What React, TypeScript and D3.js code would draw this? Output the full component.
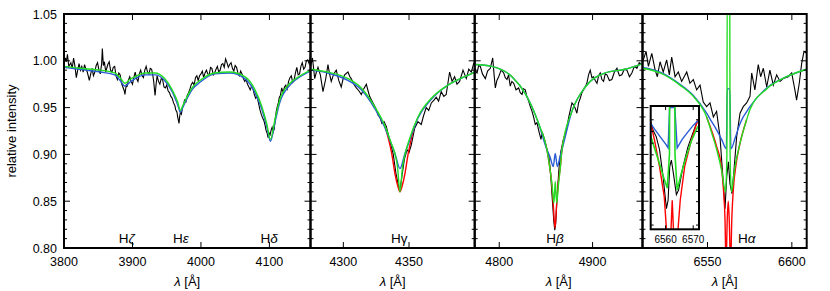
import React from 'react';
import * as d3 from 'd3';

type Pt = [number, number];

const obsDelta: Pt[] = [
  [3800, 0.996], [3802, 1.003], [3803.5, 0.999], [3805, 1.007], [3807, 0.994], [3810, 0.998], [3812, 0.992],
  [3814, 1.003], [3816, 0.994], [3818, 0.982], [3820, 0.990], [3822, 0.997], [3824, 0.990], [3826, 0.994],
  [3828, 0.988], [3830, 0.996], [3832, 0.991], [3834, 0.988], [3837, 0.979], [3839, 0.986], [3841, 0.992],
  [3843, 0.984], [3845, 0.988], [3847, 0.995], [3849, 0.998], [3851, 0.990], [3853, 0.986], [3855, 0.997],
  [3856, 1.013], [3857.5, 0.995], [3859, 0.999], [3861, 0.988], [3862, 0.991], [3864, 0.996], [3866, 0.999],
  [3868, 0.990], [3870, 0.988], [3872, 0.993], [3874, 0.994], [3876, 0.984], [3878, 0.980], [3880, 0.987],
  [3882, 0.985], [3884, 0.976], [3886, 0.972], [3888, 0.968], [3889, 0.964], [3891, 0.975], [3892, 0.972],
  [3894, 0.979], [3896, 0.983], [3898, 0.978], [3900, 0.975], [3902, 0.982], [3904, 0.988], [3906, 0.981],
  [3908, 0.978], [3910, 0.986], [3912, 0.990], [3914, 0.984], [3916, 0.982], [3918, 0.990], [3920, 0.994],
  [3922, 0.988], [3924, 0.986], [3926, 0.992], [3928, 0.991], [3930, 0.983], [3931, 0.978], [3933, 0.963],
  [3934.5, 0.975], [3936, 0.984], [3938, 0.978], [3940, 0.975], [3942, 0.981], [3944, 0.980], [3946, 0.972],
  [3948, 0.971], [3950, 0.974], [3952, 0.968], [3954, 0.966], [3956, 0.962], [3958, 0.960], [3960, 0.955],
  [3962, 0.952], [3963, 0.948], [3965, 0.945], [3966, 0.940], [3968, 0.933], [3969, 0.941], [3970, 0.945],
  [3971.5, 0.943], [3973, 0.950], [3975, 0.954], [3976, 0.958], [3978, 0.956], [3980, 0.963], [3982, 0.966],
  [3984, 0.970], [3986, 0.975], [3988, 0.977], [3990, 0.974], [3992, 0.982], [3994, 0.984], [3996, 0.979],
  [3998, 0.984], [4000, 0.986], [4002, 0.989], [4004, 0.982], [4006, 0.987], [4008, 0.990], [4010, 0.986],
  [4012, 0.985], [4014, 0.993], [4016, 0.992], [4018, 0.985], [4020, 0.987], [4022, 0.991], [4024, 0.994],
  [4026, 0.988], [4028, 0.990], [4030, 0.996], [4032, 0.997], [4034, 0.993], [4036, 1.002], [4038, 0.998],
  [4040, 0.993], [4042, 0.996], [4044, 0.998], [4046, 0.992], [4048, 0.989], [4050, 0.995], [4052, 0.993],
  [4054, 0.987], [4056, 0.984], [4058, 0.989], [4060, 0.986], [4062, 0.981], [4064, 0.978], [4066, 0.980],
  [4068, 0.975], [4070, 0.972], [4072, 0.969], [4074, 0.973], [4076, 0.970], [4078, 0.964], [4080, 0.960],
  [4082, 0.962], [4084, 0.955], [4086, 0.948], [4088, 0.943], [4090, 0.939], [4092, 0.936], [4094, 0.930],
  [4095, 0.926], [4097, 0.922], [4098, 0.918], [4099.5, 0.923], [4101, 0.921], [4102.5, 0.926], [4104, 0.929],
  [4105.5, 0.924], [4107, 0.927], [4108.5, 0.938], [4110, 0.946], [4111.5, 0.951], [4113, 0.955], [4114.5, 0.961],
  [4116, 0.963], [4118, 0.971], [4120, 0.966], [4122, 0.972], [4124, 0.974], [4126, 0.970], [4128, 0.978],
  [4130, 0.982], [4132, 0.984], [4134, 0.977], [4136, 0.979], [4138, 0.987], [4140, 0.993], [4142, 0.985],
  [4144, 0.986], [4146, 0.994], [4148, 0.998], [4150, 0.991], [4152, 0.993], [4154, 1.000], [4156, 1.001],
  [4158, 0.997], [4160, 1.005],
];

const obsGamma: Pt[] = [
  [4275, 0.994], [4276.5, 1.003], [4278.2, 0.981], [4279.5, 0.988], [4280.7, 0.993], [4282.5, 0.985],
  [4284.5, 0.967], [4286.5, 0.980], [4288.3, 0.996], [4289.5, 0.986], [4290.8, 0.978], [4292.7, 0.986],
  [4294.6, 0.990], [4296.5, 0.979], [4298.4, 0.972], [4299.7, 0.980], [4301, 0.985], [4303.5, 0.988],
  [4305, 0.983], [4306, 0.981], [4308, 0.975], [4309.9, 0.971], [4311.8, 0.968], [4313.7, 0.964],
  [4315.5, 0.970], [4317.5, 0.975], [4318.8, 0.968], [4320, 0.962], [4322.6, 0.955], [4324.5, 0.950],
  [4326.4, 0.942], [4328, 0.939], [4329.4, 0.933], [4331, 0.935], [4332.7, 0.930], [4335.3, 0.915],
  [4338, 0.900], [4340, 0.880], [4342, 0.866], [4343.1, 0.861], [4344.5, 0.876], [4346.5, 0.895],
  [4348.5, 0.905], [4350, 0.902], [4351.7, 0.910], [4354.3, 0.928], [4356.8, 0.935], [4359.3, 0.932],
  [4361, 0.941], [4363.1, 0.950], [4365, 0.947], [4367, 0.955], [4369, 0.958], [4370.7, 0.961],
  [4372.5, 0.957], [4374.5, 0.967], [4376.5, 0.962], [4378.3, 0.964], [4380.9, 0.988], [4382.8, 0.978],
  [4384.7, 0.983], [4386.5, 0.975], [4388.5, 0.978], [4391.1, 0.990], [4393.6, 0.981], [4395.5, 0.991],
  [4397.4, 0.988], [4399.2, 0.997], [4400, 0.995],
];

const obsBeta: Pt[] = [
  [4773.7, 0.990], [4776.2, 0.987], [4778, 0.995], [4779.7, 0.994], [4782, 0.986], [4785.1, 0.981],
  [4787.5, 0.989], [4790.4, 0.992], [4793, 1.003], [4794.5, 0.985], [4795.8, 0.971], [4797.5, 0.979],
  [4799.4, 0.983], [4802, 0.990], [4804.8, 0.987], [4806.5, 0.982], [4808.3, 0.980], [4810, 0.985],
  [4811.8, 0.973], [4813.5, 0.978], [4815.5, 0.976], [4818, 0.969], [4820.8, 0.971], [4822.5, 0.966],
  [4824.4, 0.964], [4826, 0.970], [4827.9, 0.969], [4829.5, 0.962], [4831.5, 0.957], [4833.3, 0.951],
  [4835.1, 0.946], [4836.8, 0.940], [4838.6, 0.932], [4840.4, 0.934], [4842.2, 0.926], [4844.7, 0.916],
  [4846, 0.924], [4847.6, 0.919], [4849.5, 0.912], [4851.1, 0.905], [4853, 0.900], [4855, 0.880],
  [4857, 0.850], [4858.5, 0.828], [4859.5, 0.819], [4860.5, 0.826], [4862, 0.855], [4864, 0.885],
  [4866, 0.903], [4869, 0.917], [4870.8, 0.922], [4872.5, 0.928], [4874.3, 0.939], [4876.1, 0.947],
  [4877.9, 0.955], [4879.7, 0.953], [4881.5, 0.949], [4883.2, 0.944], [4885, 0.955], [4886.8, 0.960],
  [4888.6, 0.966], [4890.4, 0.969], [4892.1, 0.972], [4893.9, 0.976], [4895.7, 0.985], [4897.5, 0.990],
  [4899.3, 0.982], [4901.1, 0.983], [4902.9, 0.979], [4904.7, 0.976], [4906.5, 0.984], [4908.2, 0.987],
  [4910, 0.980], [4911.8, 0.978], [4913.6, 0.986], [4915.4, 0.985], [4918, 0.979], [4920.7, 0.980],
  [4923.4, 0.988], [4926.1, 0.992], [4928.8, 0.984], [4931.4, 0.985], [4934, 0.991], [4936.8, 0.990],
  [4939.5, 0.983], [4942.1, 0.987], [4944.8, 0.994], [4947.5, 0.992], [4950, 0.998], [4953.5, 0.996],
];

const obsAlpha: Pt[] = [
  [6511.5, 0.999], [6512, 1.001], [6513.6, 1.010], [6515, 0.994], [6517, 1.008], [6519, 0.990],
  [6520.3, 0.983], [6521.9, 0.999], [6523.8, 0.988], [6525.8, 1.001], [6527.4, 0.985], [6528.8, 1.004],
  [6530.8, 0.983], [6532.7, 0.988], [6534.7, 0.978], [6537.7, 0.988], [6539.6, 0.976], [6541.6, 0.980],
  [6543.6, 0.969], [6545.6, 0.974], [6547.5, 0.956], [6549.5, 0.951], [6551.5, 0.955], [6553.5, 0.940],
  [6555.4, 0.946], [6557.4, 0.919], [6559.4, 0.869], [6560.4, 0.842], [6561.4, 0.876], [6562.4, 0.892],
  [6563.3, 0.869], [6564.5, 0.858], [6565.7, 0.883], [6567.3, 0.919], [6569.3, 0.944], [6571.2, 0.951],
  [6573.2, 0.955], [6575.2, 0.962], [6576.2, 0.987], [6578.1, 0.969], [6580.1, 0.996], [6581.5, 0.983],
  [6583.1, 0.992], [6585.1, 0.972], [6587, 0.990], [6589, 0.974], [6591, 0.985], [6593, 0.978],
  [6594.9, 0.981], [6597.9, 0.983], [6599.9, 0.987], [6601.8, 0.969], [6602.8, 0.958], [6604.4, 0.976],
  [6605.8, 0.997], [6607.2, 1.010], [6608.8, 1.008],
];

// model spectra
const greenDelta: Pt[] = [
  [3800, 0.994], [3823, 0.992], [3853, 0.990], [3874, 0.987], [3882, 0.982], [3889, 0.976], [3896, 0.980],
  [3904, 0.983], [3918, 0.987], [3933, 0.987], [3947, 0.981], [3958, 0.969], [3966, 0.956], [3970, 0.947],
  [3974, 0.953], [3980, 0.962], [3988, 0.972], [3998.5, 0.979], [4020, 0.987], [4042, 0.988], [4064, 0.983],
  [4079, 0.969], [4089, 0.951], [4096, 0.933], [4101.5, 0.916], [4108, 0.937], [4115, 0.958], [4130, 0.976],
  [4145, 0.984], [4160, 0.990],
];
const blueDelta: Pt[] = [
  [3800, 0.993], [3823, 0.991], [3853, 0.988], [3874, 0.985], [3882, 0.979], [3889, 0.973], [3896, 0.977],
  [3904, 0.981], [3918, 0.985], [3933, 0.985], [3947, 0.979], [3958, 0.967], [3966, 0.953], [3970, 0.945],
  [3974, 0.951], [3980, 0.960], [3988, 0.970], [3998.5, 0.977], [4020, 0.986], [4042, 0.987], [4064, 0.981],
  [4079, 0.966], [4089, 0.948], [4096, 0.930], [4101.5, 0.914], [4108, 0.934], [4115, 0.955], [4130, 0.974],
  [4145, 0.983], [4160, 0.989],
];

const greenGamma: Pt[] = [
  [4275, 0.991], [4288, 0.988], [4303.5, 0.981], [4313.7, 0.971], [4323.9, 0.951], [4331.5, 0.931],
  [4336.5, 0.912], [4339, 0.902], [4341.2, 0.887], [4343.1, 0.860], [4345.1, 0.887], [4347.3, 0.902],
  [4350, 0.915], [4356.8, 0.940], [4367, 0.960], [4379.6, 0.974], [4392.3, 0.983], [4400, 0.988],
];
const blueGamma: Pt[] = [
  [4275, 0.990], [4288, 0.987], [4303.5, 0.979], [4313.7, 0.969], [4323.9, 0.949], [4331.5, 0.929],
  [4336.5, 0.911], [4339.3, 0.901], [4343.1, 0.885], [4346.9, 0.901], [4350, 0.913], [4356.8, 0.939],
  [4367, 0.959], [4379.6, 0.974], [4392.3, 0.983], [4400, 0.988],
];
const redGamma: Pt[] = [
  [4331.5, 0.931], [4336.8, 0.901], [4339.5, 0.878], [4341.5, 0.866], [4343.1, 0.860], [4344.7, 0.866],
  [4346.7, 0.878], [4349.4, 0.901], [4354, 0.930],
];

const greenBeta: Pt[] = [
  [4773.7, 0.996], [4792, 0.994], [4813.6, 0.983], [4827.9, 0.965], [4842.2, 0.933], [4851.1, 0.905],
  [4854, 0.887], [4856.5, 0.868], [4858.6, 0.848], [4860, 0.871], [4861.5, 0.848], [4863.5, 0.868],
  [4865.5, 0.887], [4867.2, 0.905], [4877.9, 0.946], [4892.1, 0.972], [4913.5, 0.987], [4935, 0.991],
  [4953.5, 0.997],
];
const blueBeta: Pt[] = [
  [4773.7, 0.996], [4792, 0.994], [4813.6, 0.983], [4827.9, 0.965], [4842.2, 0.933], [4851.1, 0.905],
  [4854.5, 0.897], [4857.9, 0.887], [4860, 0.901], [4862.2, 0.887], [4865, 0.897], [4867.2, 0.905],
  [4877.9, 0.946], [4892.1, 0.972], [4913.5, 0.987], [4935, 0.991], [4953.5, 0.997],
];
const redBeta: Pt[] = [
  [4846, 0.922], [4851.1, 0.905], [4854, 0.887], [4856.5, 0.866], [4858, 0.845], [4859.7, 0.821],
  [4861.4, 0.845], [4862.9, 0.866], [4865.5, 0.887], [4867.2, 0.905], [4872, 0.925],
];

const greenAlpha: Pt[] = [
  [6511.5, 0.992], [6521.9, 0.987], [6533.7, 0.974], [6541.6, 0.962], [6549.5, 0.940], [6552.5, 0.923],
  [6555.5, 0.905], [6558.4, 0.883], [6560.7, 0.860], [6561.5, 0.9], [6561.7, 1.07], [6563.2, 1.07],
  [6563.4, 0.9], [6564.2, 0.860], [6566, 0.884], [6569.3, 0.912], [6573.2, 0.937], [6575.2, 0.948],
  [6585.1, 0.970], [6596.9, 0.983], [6608.8, 0.991],
];
const blueAlpha: Pt[] = [
  [6511.5, 0.993], [6521.9, 0.988], [6533.7, 0.975], [6541.6, 0.963], [6549.5, 0.944], [6552.5, 0.935],
  [6555.5, 0.926], [6558.4, 0.916], [6561.2, 0.906], [6561.7, 0.97], [6563.2, 0.97], [6563.9, 0.906],
  [6566.5, 0.918], [6569.3, 0.933], [6575.2, 0.951], [6585.1, 0.971], [6596.9, 0.983], [6608.8, 0.991],
];
const redAlpha: Pt[] = [
  [6549.5, 0.940], [6555.5, 0.908], [6558, 0.890], [6559.5, 0.862], [6560.4, 0.83], [6561, 0.78],
  [6561.7, 0.83], [6562.3, 0.850], [6562.9, 0.83], [6563.7, 0.78], [6564.4, 0.83], [6565.3, 0.862],
  [6567, 0.890], [6569.3, 0.912], [6573.2, 0.937],
];

// inset around the H-alpha core
const insetObs: Pt[] = [
  [6554.2, 0.939], [6555.4, 0.926], [6556.6, 0.919], [6557.8, 0.905], [6559.1, 0.876], [6560.3, 0.842],
  [6560.9, 0.851], [6561.5, 0.887], [6562.1, 0.894], [6563, 0.876], [6563.9, 0.857], [6564.7, 0.862],
  [6566.3, 0.887], [6568.1, 0.908], [6569.9, 0.923], [6571.7, 0.937],
];
const insetRed: Pt[] = [
  [6554.2, 0.939], [6556, 0.915], [6557.8, 0.887], [6559.5, 0.855], [6560.4, 0.816], [6561.2, 0.78],
  [6561.9, 0.816], [6562.4, 0.851], [6562.9, 0.816], [6563.6, 0.78], [6564.4, 0.816], [6565.3, 0.851],
  [6566.9, 0.887], [6569.3, 0.915], [6571.7, 0.937],
];
const insetGreen: Pt[] = [
  [6554.2, 0.924], [6555.4, 0.912], [6556.6, 0.901], [6557.8, 0.890], [6559.1, 0.877], [6560.6, 0.864],
  [6561.4, 0.9], [6561.5, 1.0], [6563.3, 1.0], [6563.4, 0.9], [6564.2, 0.862], [6565.7, 0.880],
  [6567.5, 0.898], [6569.3, 0.914], [6571.7, 0.930],
];
const insetBlue: Pt[] = [
  [6554.2, 0.935], [6556, 0.927], [6558, 0.919], [6560.3, 0.910], [6560.9, 0.907], [6561.45, 0.95],
  [6563.35, 0.95], [6564.2, 0.907], [6566, 0.916], [6568.1, 0.924], [6570, 0.931], [6571.7, 0.936],
];

const yTicks = [0.80, 0.85, 0.90, 0.95, 1.00, 1.05];
const insetTicksX = [6560, 6570];
const insetTicksY = [0.8245, 0.837, 0.8495, 0.862, 0.8745, 0.887, 0.8995, 0.912, 0.9245, 0.937];

const lineLabels = [
  { panel: 0, wl: 3891.5, greek: 'ζ', italic: true },
  { panel: 0, wl: 3970.8, greek: 'ε', italic: true },
  { panel: 0, wl: 4099.7, greek: 'δ', italic: true },
  { panel: 1, wl: 4342.6, greek: 'γ', italic: false },
  { panel: 2, wl: 4859.6, greek: 'β', italic: true },
  { panel: 3, wl: 6573.2, greek: 'α', italic: true },
];

const panels = [
  { domain: [3800, 4160], range: [64, 310.5], ticks: [3800, 3900, 4000, 4100], obs: obsDelta, red: [] as Pt[], blue: blueDelta, green: greenDelta },
  { domain: [4275, 4400], range: [310.5, 474.7], ticks: [4300, 4350], obs: obsGamma, red: redGamma, blue: blueGamma, green: greenGamma },
  { domain: [4773.7, 4953.5], range: [474.7, 642.5], ticks: [4800, 4900], obs: obsBeta, red: redBeta, blue: blueBeta, green: greenBeta },
  { domain: [6511.5, 6608.8], range: [642.5, 806.7], ticks: [6550, 6600], obs: obsAlpha, red: redAlpha, blue: blueAlpha, green: greenAlpha },
];

const FONT = 'Liberation Sans, Arial, Helvetica, sans-serif';
const BLACK = '#000';
const RED = '#ff0000';
const GREEN = '#22dd22';
const BLUE = '#2a5cd6';

const TOP = 14;
const BOTTOM = 248;

export default function App() {
  const y = d3.scaleLinear().domain([0.8, 1.05]).range([BOTTOM, TOP]);
  const minorY = d3.range(0, 26).map(i => 0.8 + i * 0.01);

  const mkLine = (x: d3.ScaleLinear<number, number>, curve: d3.CurveFactory) =>
    d3.line<Pt>().x(d => x(d[0])).y(d => y(d[1])).curve(curve);

  const inX = d3.scaleLinear().domain([6554.6, 6572.1]).range([650.7, 699]);
  const inTop = 106;
  const inBottom = 229.3;
  const inLine = mkLine(inX, d3.curveLinear);

  return (
    <svg width={830} height={291} style={{ position: 'absolute', left: 0, top: 0, background: '#fff' }}
      fontFamily={FONT}>
      <defs>
        {panels.map((p, i) => (
          <clipPath id={`clip${i}`} key={i}>
            <rect x={p.range[0]} y={TOP} width={p.range[1] - p.range[0]} height={BOTTOM - TOP} />
          </clipPath>
        ))}
        <clipPath id="clipInset">
          <rect x={650.7} y={inTop} width={699 - 650.7} height={inBottom - inTop} />
        </clipPath>
      </defs>

      {panels.map((p, i) => {
        const x = d3.scaleLinear().domain(p.domain).range(p.range);
        const lin = mkLine(x, d3.curveLinear);
        const smooth = mkLine(x, d3.curveMonotoneX);
        const [x0, x1] = p.range;
        return (
          <g key={i}>
            <g clipPath={`url(#clip${i})`}>
              <path d={lin(p.obs) || ''} fill="none" stroke={BLACK} strokeWidth={1.1} />
              {p.red.length > 0 && <path d={smooth(p.red) || ''} fill="none" stroke={RED} strokeWidth={1.4} />}
              <path d={smooth(p.blue) || ''} fill="none" stroke={BLUE} strokeWidth={1.4} />
              <path d={smooth(p.green) || ''} fill="none" stroke={GREEN} strokeWidth={1.4} />
            </g>
            {minorY.map((v, j) => {
              const major = j % 5 === 0;
              const len = major ? 6 : 3;
              return (
                <g key={j} stroke={BLACK} strokeWidth={1}>
                  <line x1={x0} x2={x0 + len} y1={y(v)} y2={y(v)} />
                  <line x1={x1} x2={x1 - len} y1={y(v)} y2={y(v)} />
                </g>
              );
            })}
            {p.ticks.map(t => (
              <g key={t}>
                <line x1={x(t)} x2={x(t)} y1={BOTTOM} y2={BOTTOM - 6} stroke={BLACK} />
                <line x1={x(t)} x2={x(t)} y1={TOP} y2={TOP + 6} stroke={BLACK} />
                <text x={x(t)} y={266} textAnchor="middle" fontSize={12.5}>{t}</text>
              </g>
            ))}
            <rect x={x0} y={TOP} width={x1 - x0} height={BOTTOM - TOP} fill="none" stroke={BLACK} strokeWidth={2} />
            <text x={(x0 + x1) / 2} y={286} textAnchor="middle" fontSize={13}>
              <tspan fontStyle="italic">λ</tspan> [Å]
            </text>
          </g>
        );
      })}

      {yTicks.map(t => (
        <text key={t} x={57} y={y(t)} dy="0.36em" textAnchor="end" fontSize={12.5}>{t.toFixed(2)}</text>
      ))}
      <text transform={`translate(15.5, ${(TOP + BOTTOM) / 2}) rotate(-90)`} textAnchor="middle" fontSize={13}>
        relative intensity
      </text>

      {lineLabels.map((l, i) => {
        const p = panels[l.panel];
        const x = d3.scaleLinear().domain(p.domain).range(p.range);
        return (
          <text key={i} x={x(l.wl)} y={242.5} textAnchor="middle" fontSize={13.5}>
            H<tspan fontStyle={l.italic ? 'italic' : 'normal'}>{l.greek}</tspan>
          </text>
        );
      })}

      {/* inset */}
      <g>
        <rect x={650.7} y={inTop} width={699 - 650.7} height={inBottom - inTop} fill="#fff" />
        <g clipPath="url(#clipInset)">
          <path d={inLine(insetObs) || ''} fill="none" stroke={BLACK} strokeWidth={1.1} />
          <path d={inLine(insetRed) || ''} fill="none" stroke={RED} strokeWidth={1.4} />
          <path d={inLine(insetBlue) || ''} fill="none" stroke={BLUE} strokeWidth={1.4} />
          <path d={inLine(insetGreen) || ''} fill="none" stroke={GREEN} strokeWidth={1.6} />
        </g>
        {insetTicksY.map(v => (
          <g key={v} stroke={BLACK}>
            <line x1={650.7} x2={653.7} y1={y(v)} y2={y(v)} />
            <line x1={699} x2={696} y1={y(v)} y2={y(v)} />
          </g>
        ))}
        {insetTicksX.map(t => (
          <g key={t}>
            <line x1={inX(t)} x2={inX(t)} y1={inBottom} y2={inBottom - 4} stroke={BLACK} />
            <line x1={inX(t)} x2={inX(t)} y1={inTop} y2={inTop + 4} stroke={BLACK} />
            <text x={inX(t)} y={242.5} textAnchor="middle" fontSize={10}>{t}</text>
          </g>
        ))}
        <rect x={650.7} y={inTop} width={699 - 650.7} height={inBottom - inTop} fill="none" stroke={BLACK} strokeWidth={2} />
      </g>
    </svg>
  );
}
